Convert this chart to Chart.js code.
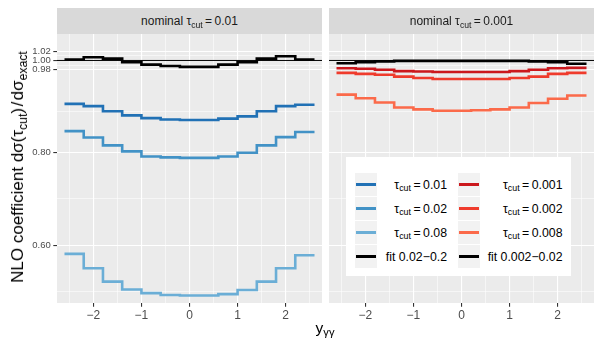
<!DOCTYPE html>
<html><head><meta charset="utf-8">
<script src="https://cdn.jsdelivr.net/npm/chart.js@4.4.1/dist/chart.umd.min.js"></script>
<style>
body{margin:0;background:#fff;width:600px;height:350px;position:relative;overflow:hidden;font-family:"Liberation Sans",Arial,sans-serif;}
canvas{position:absolute;top:0;}
.strip{position:absolute;top:8px;height:26px;width:265px;background:#d9d9d9;color:#1a1a1a;font-size:12px;text-align:center;line-height:26px;}
.sub{font-size:72%;position:relative;top:0.3em;}
#ytitle{position:absolute;left:18px;top:167px;transform:translate(-50%,-50%) rotate(-90deg);white-space:nowrap;font-size:17px;color:#000;}
#xtitle{position:absolute;left:325px;top:328px;transform:translate(-50%,-50%);white-space:nowrap;font-size:15.5px;color:#000;}
#legend{position:absolute;left:346px;top:157px;width:225px;height:119px;background:#fff;}
.key{position:absolute;width:22px;height:23px;background:#f2f2f2;}
.key i{position:absolute;left:1px;right:1px;top:10.2px;height:2.6px;}
.lab{position:absolute;font-size:12.3px;color:#000;white-space:nowrap;transform:translate(-100%,-50%);}
</style></head>
<body>
<canvas id="left" width="322" height="350" style="left:0px;width:322px;height:350px"></canvas>
<canvas id="right" width="265" height="350" style="left:329px;width:265px;height:350px"></canvas>
<div class="strip" style="left:57px">nominal τ<span class="sub">cut</span>&#8201;=&#8201;0.01</div>
<div class="strip" style="left:329px">nominal τ<span class="sub">cut</span>&#8201;=&#8201;0.001</div>
<div id="ytitle">NLO coefficient dσ(τ<span class="sub">cut</span>)&#8202;/&#8202;dσ<span class="sub">exact</span></div>
<div id="xtitle">y<span class="sub">γγ</span></div>
<div id="legend"></div>
<script>
// ---- data ----
const binEdges = [-2.6,-2.2,-1.8,-1.4,-1.0,-0.6,-0.2,0.2,0.6,1.0,1.4,1.8,2.2,2.6];
const tauCut0p01  = [0.906,0.901,0.890,0.881,0.875,0.872,0.871,0.871,0.874,0.879,0.890,0.901,0.904];
const tauCut0p02  = [0.847,0.833,0.816,0.803,0.792,0.790,0.789,0.789,0.792,0.800,0.816,0.834,0.845];
const tauCut0p08  = [0.581,0.550,0.521,0.504,0.496,0.492,0.491,0.491,0.494,0.503,0.521,0.550,0.578];
const fitLeft     = [1.002,1.007,1.004,0.996,0.991,0.988,0.986,0.986,0.991,0.996,1.004,1.009,1.002];
const tauCut0p001 = [0.983,0.982,0.980,0.977,0.976,0.975,0.975,0.975,0.975,0.977,0.980,0.983,0.984];
const tauCut0p002 = [0.973,0.971,0.969,0.965,0.962,0.960,0.960,0.960,0.960,0.962,0.965,0.971,0.973];
const tauCut0p008 = [0.926,0.918,0.909,0.898,0.894,0.891,0.891,0.892,0.894,0.898,0.908,0.917,0.924];
const fitRight    = [0.994,0.996,0.998,0.999,0.999,0.999,0.999,0.999,0.999,0.999,0.998,0.996,0.993];
const refValue = 1.0;
const xMajorTicks = [-2,-1,0,1,2];
const xMinorTicks = [-2.5,-1.5,-0.5,0.5,1.5,2.5];
const yMajorTicks = [0.6,0.8,0.98,1.0,1.02];
const yMinorTicks = [0.5,0.7,0.89,0.99,1.01];
const xLimits = [-2.756, 2.756];
const yLimits = [0.4747, 1.0573];
const leftLabels  = ['τ<span class="sub">cut</span>&#8201;=&#8201;0.01','τ<span class="sub">cut</span>&#8201;=&#8201;0.02','τ<span class="sub">cut</span>&#8201;=&#8201;0.08','fit 0.02\u22120.2'];
const rightLabels = ['τ<span class="sub">cut</span>&#8201;=&#8201;0.001','τ<span class="sub">cut</span>&#8201;=&#8201;0.002','τ<span class="sub">cut</span>&#8201;=&#8201;0.008','fit 0.002\u22120.02'];
const blueColors = ['#2171b5','#4292c6','#6baed6','#000000'];
const redColors  = ['#cb181d','#ef3b2c','#fb6a4a','#000000'];

// ---- helpers ----
const near = (a,b)=>Math.abs(a-b)<1e-9;
const isIn = (v,list)=>list.some(t=>near(t,v));
const stepPoints = vals => binEdges.map((x,i)=>({x, y: vals[Math.min(i, vals.length-1)]}));
const fmtX = v => v<0 ? '\u2212'+Math.abs(v) : String(v);

const panelBg = {id:'panelBg', beforeDraw(chart){const {ctx, chartArea:a}=chart; ctx.save(); ctx.fillStyle='#ebebeb'; ctx.fillRect(a.left,a.top,a.right-a.left,a.bottom-a.top); ctx.restore();}};

function makeChart(id, seriesList, colors, showY){
  const datasets = [];
  seriesList.forEach((s,i)=>{
    datasets.push({data: stepPoints(s), borderColor: colors[i], borderWidth: 2.6, pointRadius: 0, stepped: true, fill:false, order: seriesList.length - i});
  });
  datasets.push({data: [{x:xLimits[0],y:refValue},{x:xLimits[1],y:refValue}], borderColor:'#000', borderWidth:1, pointRadius:0, fill:false, order: 10});
  return new Chart(document.getElementById(id), {
    type:'line',
    data:{datasets},
    plugins:[panelBg],
    options:{
      responsive:false, animation:false, devicePixelRatio:1,
      layout:{padding:{top:34,left:0,right:0,bottom:0}},
      plugins:{legend:{display:false}, tooltip:{enabled:false}},
      scales:{
        x:{type:'linear', min:xLimits[0], max:xLimits[1],
          afterBuildTicks: s=>{ s.ticks = [...xMajorTicks,...xMinorTicks].sort((a,b)=>a-b).map(v=>({value:v})); },
          afterFit: s=>{ s.height = 47; },
          border:{display:false},
          grid:{color:'#ffffff', lineWidth: c=> (c.tick && isIn(c.tick.value,xMajorTicks))?1.1:0.55,
                tickColor: c=> (c.tick && isIn(c.tick.value,xMajorTicks))?'#333333':'rgba(0,0,0,0)',
                tickWidth: 1.1, tickLength:3.7, drawTicks:true},
          ticks:{autoSkip:false, maxRotation:0, minRotation:0, padding:2, color:'#4d4d4d',
                 font:{family:'"Liberation Sans", Arial, sans-serif', size:12},
                 callback: v => isIn(v,xMajorTicks) ? fmtX(v) : ''}
        },
        y:{type:'linear', min:yLimits[0], max:yLimits[1],
          afterBuildTicks: s=>{ s.ticks = [...yMajorTicks,...yMinorTicks].sort((a,b)=>a-b).map(v=>({value:v})); },
          afterFit: s=>{ s.width = showY ? 57 : 0; },
          border:{display:false},
          grid:{color:'#ffffff', lineWidth: c=> (c.tick && isIn(c.tick.value,yMajorTicks))?1.1:0.55,
                tickColor: c=> (c.tick && isIn(c.tick.value,yMajorTicks))?'#333333':'rgba(0,0,0,0)',
                tickWidth: 1.1, tickLength:3.7, drawTicks:showY},
          ticks:{display:showY, autoSkip:false, padding:2.5, color:'#4d4d4d',
                 font:{family:'"Liberation Sans", Arial, sans-serif', size:9.5},
                 callback: v => isIn(v,yMajorTicks) ? v.toFixed(2) : ''}
        }
      }
    }
  });
}

makeChart('left', [tauCut0p01,tauCut0p02,tauCut0p08,fitLeft], blueColors, true);
makeChart('right', [tauCut0p001,tauCut0p002,tauCut0p008,fitRight], redColors, false);

// ---- legend (HTML) ----
const legend = document.getElementById('legend');
const rowTop0 = 16, rowStep = 24.1;
[[leftLabels, blueColors, 9, 101],[rightLabels, redColors, 111.5, 216.5]].forEach(([labels, cols, keyX, labRight])=>{
  labels.forEach((lab,i)=>{
    const top = rowTop0 + i*rowStep;
    const k = document.createElement('div'); k.className='key'; k.style.left=keyX+'px'; k.style.top=top+'px';
    const line = document.createElement('i'); line.style.background = cols[i]; k.appendChild(line);
    legend.appendChild(k);
    const t = document.createElement('div'); t.className='lab'; t.style.left=labRight+'px'; t.style.top=(top+11.5)+'px'; t.innerHTML = lab;
    legend.appendChild(t);
  });
});
</script>
</body></html>
